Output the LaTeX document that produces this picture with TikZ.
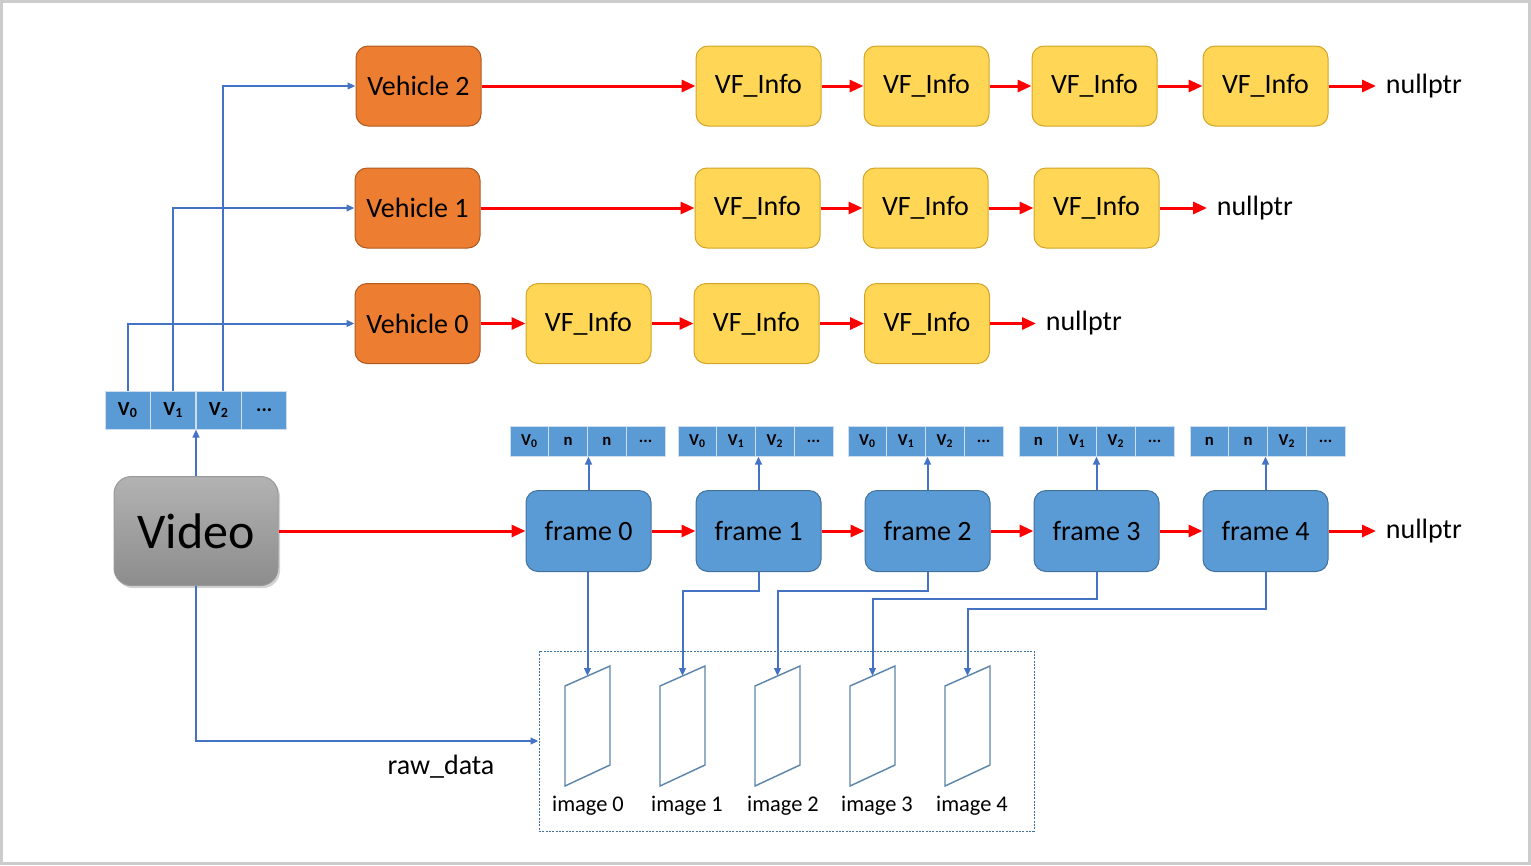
\documentclass[tikz,border=0pt]{standalone}
\usepackage{fontspec}
\setmainfont{Carlito}
\usetikzlibrary{arrows.meta,shadows}

\definecolor{vehfill}{RGB}{237,125,49}
\definecolor{vehline}{RGB}{174,90,33}
\definecolor{infofill}{RGB}{255,214,85}
\definecolor{infoline}{RGB}{210,165,40}
\definecolor{framefill}{RGB}{91,155,213}
\definecolor{frameline}{RGB}{65,113,156}
\definecolor{linkblue}{RGB}{68,114,196}
\definecolor{cellline}{RGB}{205,222,240}

\newcommand{\Vsub}[1]{V\textsubscript{#1}}

\tikzset{every picture/.style={line width=0.75pt}}
\tikzset{
  vehbox/.style={draw=vehline, fill=vehfill, rounded corners=9pt, minimum width=93.75pt, minimum height=60pt, inner sep=0.75pt, font=\fontsize{21}{25}\selectfont},
  infobox/.style={draw=infoline, fill=infofill, rounded corners=9pt, minimum width=93.75pt, minimum height=60pt, inner sep=0.75pt, font=\fontsize{21}{25}\selectfont},
  framebox/.style={draw=frameline, fill=framefill, rounded corners=9pt, minimum width=93.75pt, minimum height=60.75pt, inner sep=0.75pt, font=\fontsize{21}{25}\selectfont},
  bigcell/.style={draw=cellline, fill=framefill, minimum width=34.1pt, minimum height=28.5pt, inner sep=0pt, font=\fontsize{15}{18}\selectfont\bfseries},
  smallcell/.style={draw=cellline, fill=framefill, minimum width=29.06pt, minimum height=22.5pt, inner sep=0pt, font=\fontsize{12.5}{15}\selectfont\bfseries},
  nulltext/.style={anchor=west, inner sep=7pt, font=\fontsize{21}{25}\selectfont},
  redarr/.style={draw=red, line width=2.25pt, -{Triangle[length=10.5pt,width=9pt]}},
  bluearr/.style={draw=linkblue, line width=1.5pt, -{Triangle[length=6pt,width=5pt]}},
  imgline/.style={draw=frameline!85, line width=1.1pt},
}

\begin{document}
\begin{tikzpicture}[x=0.75pt,y=0.75pt,yscale=-1,xscale=1]
\useasboundingbox (0,0) rectangle (1531,865);

% outer frame
\draw [color={rgb, 255:red, 204; green, 204; blue, 204 }, line width=2.25pt] (1.5,1.5) rectangle (1529.5,863.5);

% vehicles
\node [vehbox] (veh2) at (418.5,86) {Vehicle 2};
\node [vehbox] (veh1) at (417.5,208) {Vehicle 1};
\node [vehbox] (veh0) at (417.5,323.5) {Vehicle 0};

% VF_Info lists
\node [infobox] (inf2-1) at (758.5,86) {VF\_Info};
\node [infobox] (inf2-2) at (926.5,86) {VF\_Info};
\node [infobox] (inf2-3) at (1094.5,86) {VF\_Info};
\node [infobox] (inf2-4) at (1265.5,86) {VF\_Info};
\node [nulltext] (null2) at (1376,86) {nullptr};

\node [infobox] (inf1-1) at (757.5,208) {VF\_Info};
\node [infobox] (inf1-2) at (925.5,208) {VF\_Info};
\node [infobox] (inf1-3) at (1096.5,208) {VF\_Info};
\node [nulltext] (null1) at (1207,208) {nullptr};

\node [infobox] (inf0-1) at (588.5,323.5) {VF\_Info};
\node [infobox] (inf0-2) at (756.5,323.5) {VF\_Info};
\node [infobox] (inf0-3) at (927,323.5) {VF\_Info};
\node [nulltext] (null0) at (1036,323.5) {nullptr};

\draw [redarr] (veh2) -- (inf2-1);
\draw [redarr] (inf2-1) -- (inf2-2);
\draw [redarr] (inf2-2) -- (inf2-3);
\draw [redarr] (inf2-3) -- (inf2-4);
\draw [redarr] (inf2-4) -- (null2);

\draw [redarr] (veh1) -- (inf1-1);
\draw [redarr] (inf1-1) -- (inf1-2);
\draw [redarr] (inf1-2) -- (inf1-3);
\draw [redarr] (inf1-3) -- (null1);

\draw [redarr] (veh0) -- (inf0-1);
\draw [redarr] (inf0-1) -- (inf0-2);
\draw [redarr] (inf0-2) -- (inf0-3);
\draw [redarr] (inf0-3) -- (null0);

% vehicle array
\node [bigcell] (v0) at (127.75,410) {\Vsub{0}};
\node [bigcell] (v1) at (173.25,410) {\Vsub{1}};
\node [bigcell] (v2) at (218.75,410) {\Vsub{2}};
\node [bigcell] (v3) at (264.25,410) {...};

\draw [bluearr] (v0.north) |- (veh0.west);
\draw [bluearr] (v1.north) |- (veh1.west);
\draw [bluearr] ([xshift=3.5pt]v2.north) |- (veh2.west);

% video
\node [draw=gray!80, top color=black!30, bottom color=black!45, rounded corners=13pt, drop shadow={opacity=0.35, shadow xshift=1.5pt, shadow yshift=-2pt}, minimum width=123pt, minimum height=81.75pt, font=\fontsize{37.5}{42}\selectfont] (vid) at (196,531) {Video};
\draw [bluearr] (vid.north) -- (vid.north |- v2.south);

% frames
\node [framebox] (f0) at (588.5,531) {frame 0};
\node [framebox] (f1) at (758.5,531) {frame 1};
\node [framebox] (f2) at (927.5,531) {frame 2};
\node [framebox] (f3) at (1096.5,531) {frame 3};
\node [framebox] (f4) at (1265.5,531) {frame 4};
\node [nulltext] (nullf) at (1376,531) {nullptr};

\draw [redarr] (vid) -- (f0);
\draw [redarr] (f0) -- (f1);
\draw [redarr] (f1) -- (f2);
\draw [redarr] (f2) -- (f3);
\draw [redarr] (f3) -- (f4);
\draw [redarr] (f4) -- (nullf);

% per-frame vehicle arrays
\foreach \cx/\ca/\cb/\cc [count=\i from 0] in {587.5/{\Vsub{0}}/n/n, 755.5/{\Vsub{0}}/{\Vsub{1}}/{\Vsub{2}}, 925.5/{\Vsub{0}}/{\Vsub{1}}/{\Vsub{2}}, 1096.5/n/{\Vsub{1}}/{\Vsub{2}}, 1267.5/n/n/{\Vsub{2}}} {
  \node [smallcell] (s\i-1) at (\cx-58.125,441) {\ca};
  \node [smallcell] (s\i-2) at (\cx-19.375,441) {\cb};
  \node [smallcell] (s\i-3) at (\cx+19.375,441) {\cc};
  \node [smallcell] (s\i-4) at (\cx+58.125,441) {...};
  \draw [bluearr] (f\i.north) -- (f\i.north |- s\i-1.south);
}

% raw data box and images
\node [draw=frameline, dash pattern={on 1.5pt off 1pt}, line width=0.75pt, minimum width=371.25pt, minimum height=135pt] (rawbox) at (786.5,741) {};
\foreach \i/\lx in {0/588,1/687,2/783,3/877,4/972} {
  \pgfmathsetmacro\ix{565+95*\i}
  \draw [imgline] (\ix,686) -- (\ix+45,666) -- (\ix+45,765) -- (\ix,786) -- cycle;
  \coordinate (im\i) at (\ix+22.5,676);
  \node [inner sep=0.75pt, font=\fontsize{16.8}{20}\selectfont] (lab\i) at (\lx,806) {image \i};
}

\draw [bluearr] (f0.south -| im0) -- (im0);
\draw [bluearr] (f1.south) -- ++(0,18.5) -| (im1);
\draw [bluearr] (f2.south) -- ++(0,18.5) -| (im2);
\draw [bluearr] (f3.south) -- ++(0,26.5) -| (im3);
\draw [bluearr] (f4.south) -- ++(0,36.5) -| (im4);

\draw [bluearr] (vid.south) |- (rawbox.west);
\node [inner sep=0.75pt, font=\fontsize{21}{25}\selectfont] (rawlab) at (441,767) {raw\_data};

\end{tikzpicture}
\end{document}
